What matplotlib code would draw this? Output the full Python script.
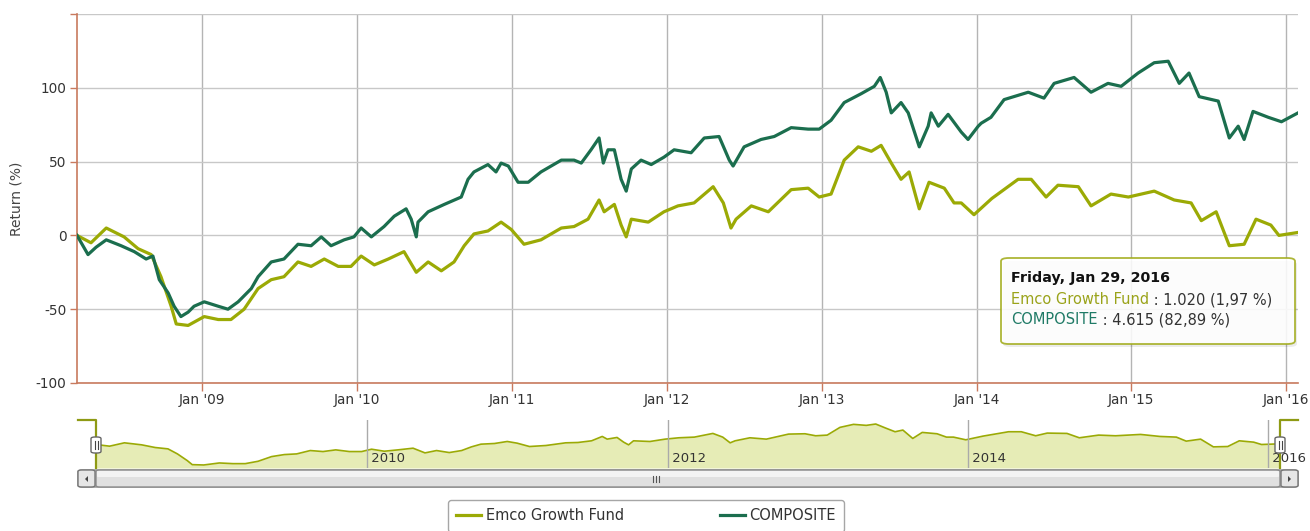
import numpy as np
import pandas as pd
import matplotlib
matplotlib.use("Agg")
import matplotlib.pyplot as plt
import matplotlib.dates as mdates
from matplotlib.patches import FancyBboxPatch, Polygon
from matplotlib.lines import Line2D
from matplotlib.text import Annotation

# --- data (return in %) ---
fund_dates = [
    "2008-03-12", "2008-04-14", "2008-05-20", "2008-07-01", "2008-08-03", "2008-09-03",
    "2008-09-26", "2008-10-20", "2008-11-01", "2008-11-29", "2009-01-06", "2009-02-08",
    "2009-03-10", "2009-04-10", "2009-05-13", "2009-06-13", "2009-07-13", "2009-08-15",
    "2009-09-15", "2009-10-16", "2009-11-18", "2009-12-18", "2010-01-11", "2010-02-11",
    "2010-03-16", "2010-04-22", "2010-05-21", "2010-06-18", "2010-07-19", "2010-08-18",
    "2010-09-11", "2010-10-04", "2010-11-06", "2010-12-07", "2010-12-31", "2011-01-30",
    "2011-03-11", "2011-04-28", "2011-05-28", "2011-06-30", "2011-07-26", "2011-08-07",
    "2011-08-31", "2011-09-16", "2011-09-28", "2011-10-10", "2011-11-19", "2011-12-26",
    "2012-01-28", "2012-03-06", "2012-04-20", "2012-05-14", "2012-06-01", "2012-06-13",
    "2012-07-19", "2012-08-28", "2012-10-21", "2012-11-30", "2012-12-26", "2013-01-23",
    "2013-02-23", "2013-03-28", "2013-04-28", "2013-05-21", "2013-06-14", "2013-07-07",
    "2013-07-26", "2013-08-19", "2013-09-11", "2013-10-17", "2013-11-09", "2013-11-26",
    "2013-12-26", "2014-02-06", "2014-04-09", "2014-05-10", "2014-06-14", "2014-07-12",
    "2014-08-29", "2014-09-28", "2014-11-14", "2014-12-25", "2015-02-24", "2015-04-12",
    "2015-05-22", "2015-06-15", "2015-07-20", "2015-08-20", "2015-09-24", "2015-10-22",
    "2015-11-26", "2015-12-15", "2016-01-29",
]
fund_values = [
    0, -5, 5, -1, -9, -13,
    -28, -48, -60, -61, -55, -57,
    -57, -50, -36, -30, -28, -18,
    -21, -16, -21, -21, -14, -20,
    -16, -11, -25, -18, -24, -18,
    -7, 1, 3, 9, 4, -6,
    -3, 5, 6, 11, 24, 16,
    21, 7, -1, 11, 9, 16,
    20, 22, 33, 22, 5, 11,
    20, 16, 31, 32, 26, 28,
    51, 60, 57, 61, 49, 38,
    43, 18, 36, 32, 22, 22,
    14, 25, 38, 38, 26, 34,
    33, 20, 28, 26, 30, 24,
    22, 10, 16, -7, -6, 11,
    7, 0, 2,
]

comp_dates = [
    "2008-03-12", "2008-04-07", "2008-04-26", "2008-05-20", "2008-06-24", "2008-07-25",
    "2008-08-22", "2008-09-07", "2008-09-22", "2008-10-13", "2008-10-27", "2008-11-12",
    "2008-11-29", "2008-12-13", "2009-01-06", "2009-02-08", "2009-03-03", "2009-03-27",
    "2009-04-27", "2009-05-13", "2009-06-13", "2009-07-13", "2009-08-15", "2009-09-15",
    "2009-10-09", "2009-11-01", "2009-12-02", "2009-12-25", "2010-01-11", "2010-02-04",
    "2010-03-06", "2010-03-30", "2010-04-27", "2010-05-09", "2010-05-21", "2010-05-25",
    "2010-06-18", "2010-07-26", "2010-09-04", "2010-09-20", "2010-10-04", "2010-11-06",
    "2010-11-25", "2010-12-07", "2010-12-24", "2011-01-16", "2011-02-09", "2011-03-11",
    "2011-04-28", "2011-05-28", "2011-06-14", "2011-07-07", "2011-07-26", "2011-08-05",
    "2011-08-16", "2011-08-31", "2011-09-16", "2011-09-28", "2011-10-10", "2011-11-02",
    "2011-11-26", "2011-12-26", "2012-01-19", "2012-02-28", "2012-03-30", "2012-05-04",
    "2012-05-28", "2012-06-06", "2012-07-02", "2012-08-11", "2012-09-11", "2012-10-21",
    "2012-11-30", "2012-12-26", "2013-01-23", "2013-02-23", "2013-04-04", "2013-05-05",
    "2013-05-19", "2013-06-02", "2013-06-14", "2013-07-07", "2013-07-24", "2013-08-19",
    "2013-09-09", "2013-09-16", "2013-10-03", "2013-10-26", "2013-11-26", "2013-12-12",
    "2014-01-05", "2014-01-12", "2014-02-04", "2014-03-07", "2014-05-03", "2014-06-09",
    "2014-07-03", "2014-08-19", "2014-09-28", "2014-11-07", "2014-12-08", "2015-01-17",
    "2015-02-24", "2015-03-29", "2015-04-24", "2015-05-17", "2015-06-10", "2015-07-25",
    "2015-08-20", "2015-09-10", "2015-09-24", "2015-10-15", "2015-11-20", "2015-12-21",
    "2016-01-29",
]
comp_values = [
    0, -13, -8, -3, -7, -11,
    -16, -14, -30, -39, -48, -55,
    -52, -48, -45, -48, -50, -45,
    -36, -28, -18, -16, -6, -7,
    -1, -7, -3, -1, 5, -1,
    6, 13, 18, 11, -1, 9,
    16, 21, 26, 38, 43, 48,
    43, 49, 47, 36, 36, 43,
    51, 51, 49, 58, 66, 49,
    58, 58, 38, 30, 45, 51,
    48, 53, 58, 56, 66, 67,
    51, 47, 60, 65, 67, 73,
    72, 72, 78, 90, 96, 101,
    107, 97, 83, 90, 83, 60,
    74, 83, 74, 82, 70, 65,
    74, 76, 80, 92, 97, 93,
    103, 107, 97, 103, 101, 110,
    117, 118, 103, 110, 94, 91,
    66, 74, 65, 84, 80, 77,
    83,
]

fund_name = "Emco Growth Fund"
comp_name = "COMPOSITE"
x_start, x_end = "2008-03-12", "2016-01-29"
y_ticks = [-100, -50, 0, 50, 100, 150]
y_tick_labels = ["-100", "-50", "0", "50", "100", ""]
nav_years = [2010, 2012, 2014, 2016]

FUND_C = "#9BAA05"
COMP_C = "#1B6E4E"
AXIS_C = "#C87A5E"
TEXT_C = "#333333"

W, H = 1310, 531


def fx(px):
    return px / W


def fy(py):
    return 1 - py / H


fd = pd.to_datetime(fund_dates)
cd = pd.to_datetime(comp_dates)
x0, x1 = pd.Timestamp(x_start), pd.Timestamp(x_end)

plt.rcParams["font.family"] = ["DejaVu Sans"]
fig = plt.figure(figsize=(W / 100, H / 100), dpi=100)
fig.patch.set_facecolor("white")

# ---------------- main chart ----------------
ax = fig.add_axes([fx(77), fy(383), fx(1298) - fx(77), fy(14) - fy(383)])
l_fund, = ax.plot(fd, fund_values, color=FUND_C, lw=2.3, solid_joinstyle="round", zorder=3)
l_comp, = ax.plot(cd, comp_values, color=COMP_C, lw=2.3, solid_joinstyle="round", zorder=4)

ax.set_xlim(x0, x1)
ax.set_ylim(-100, 150)
ax.set_yticks(y_ticks)
ax.set_yticklabels(y_tick_labels)
ax.xaxis.set_major_locator(mdates.YearLocator())
ax.xaxis.set_major_formatter(mdates.DateFormatter("Jan '%y"))

for s in ["top", "right"]:
    ax.spines[s].set_visible(False)
for s in ["left", "bottom"]:
    ax.spines[s].set_color(AXIS_C)
    ax.spines[s].set_linewidth(1.2)
ax.grid(axis="y", color="#C8C8C8", lw=1)
ax.grid(axis="x", color="#B4B4B4", lw=1)
ax.set_axisbelow(True)
ax.tick_params(axis="both", colors=AXIS_C, length=6, width=1, labelsize=9.8,
               labelcolor=TEXT_C)
ax.tick_params(axis="x", pad=1.5)
ax.tick_params(axis="y", length=5, pad=2.5)
ax.set_ylabel("Return (%)", fontsize=10, color="#444444", labelpad=9)

# tooltip
tip = FancyBboxPatch((fx(1001), fy(344)), fx(1295) - fx(1001), fy(258) - fy(344),
                     boxstyle="round,pad=0,rounding_size=0.006", transform=fig.transFigure,
                     facecolor="white", edgecolor="#A2AC1C", lw=1.3, alpha=0.88, zorder=10)
shadow = FancyBboxPatch((fx(1003), fy(347)), fx(1295) - fx(1001), fy(258) - fy(344),
                        boxstyle="round,pad=0,rounding_size=0.006", transform=fig.transFigure,
                        facecolor="#000000", edgecolor="none", alpha=0.08, zorder=9)
fig.patches.extend([shadow, tip])
fig.text(fx(1011), fy(278), "Friday, Jan 29, 2016", fontsize=10.3, fontweight="bold",
         color="#111111", va="center", zorder=11)
t1 = fig.text(fx(1011), fy(300), fund_name, fontsize=10.5, color="#9AA31A", va="center",
              zorder=11)
t2 = fig.text(fx(1011), fy(320), comp_name, fontsize=10.5, color="#1F7A66", va="center",
              zorder=11)
for tt, rest in ((t1, " : 1.020 (1,97 %)"), (t2, " : 4.615 (82,89 %)")):
    an = Annotation(rest, xy=(1, 0), xycoords=tt, va="bottom", ha="left",
                    fontsize=10.5, color=TEXT_C, annotation_clip=False)
    an.set_zorder(11)
    fig.add_artist(an)

# ---------------- navigator ----------------
nav = fig.add_axes([fx(96), fy(468), fx(1280) - fx(96), fy(420) - fy(468)])
nav.fill_between(fd, fund_values, -70, color="#E6ECB6", lw=0)
nav.plot(fd, fund_values, color=FUND_C, lw=1.2)
nav.set_xlim(x0, x1)
nav.set_ylim(-70, 73)
nav.set_xticks([])
nav.set_yticks([])
for s in nav.spines.values():
    s.set_visible(False)
for yr in nav_years:
    d = pd.Timestamp(f"{yr}-01-01")
    nav.axvline(d, color="#AAAAAA", lw=1)
    nav.text(d, -62, f" {yr}", fontsize=9.5, color=TEXT_C, va="bottom", ha="left",
             clip_on=False)

OUT_C = "#8E9A14"
fig.lines.append(Line2D([fx(78), fx(96), fx(96)], [fy(420), fy(420), fy(468)],
                        transform=fig.transFigure, color=OUT_C, lw=1.6))
fig.lines.append(Line2D([fx(1280), fx(1280), fx(1298)], [fy(468), fy(420), fy(420)],
                        transform=fig.transFigure, color=OUT_C, lw=1.6))


# scrollbar
def rbox(x_a, y_a, x_b, y_b, fc, ec, lw=1, r=0.003, z=5):
    p = FancyBboxPatch((fx(x_a), fy(y_b)), fx(x_b) - fx(x_a), fy(y_a) - fy(y_b),
                       boxstyle=f"round,pad=0,rounding_size={r}", transform=fig.transFigure,
                       facecolor=fc, edgecolor=ec, lw=lw, zorder=z)
    fig.patches.append(p)
    return p


rbox(78, 470, 1298, 487, "#EEEEEE", "#8C8C8C", lw=1)
rbox(96, 470, 1280, 487, "#E0E0E0", "#8C8C8C", lw=1)
rbox(97, 471, 1279, 477, "#F3F3F3", "none", lw=0, r=0.001)
rbox(78, 470, 95, 487, "#E6E6E6", "#777777", lw=1)
rbox(1281, 470, 1298, 487, "#E6E6E6", "#777777", lw=1)
for pts in ([(88, 476), (88, 482), (85, 479)], [(1288, 476), (1288, 482), (1291, 479)]):
    fig.patches.append(Polygon([(fx(a), fy(b)) for a, b in pts], closed=True,
                               transform=fig.transFigure, facecolor="#444444",
                               edgecolor="none", zorder=7))
for gx in (653, 656, 659):
    fig.lines.append(Line2D([fx(gx), fx(gx)], [fy(476), fy(482)], transform=fig.transFigure,
                            color="#555555", lw=0.8, zorder=7))

# navigator handles
for hx in (96, 1280):
    rbox(hx - 5, 437, hx + 5, 453, "white", "#666666", lw=1, r=0.003, z=8)
    for dx in (-1.5, 1.5):
        fig.lines.append(Line2D([fx(hx + dx), fx(hx + dx)], [fy(441), fy(449)],
                                transform=fig.transFigure, color="#444444", lw=0.8, zorder=9))

# ---------------- legend ----------------
leg = fig.legend([l_fund, l_comp], [fund_name, comp_name], loc="center",
                 bbox_to_anchor=(fx(646), fy(516)), ncol=2, fontsize=10.5, frameon=True,
                 fancybox=True, edgecolor="#909090", handlelength=1.7, handletextpad=0.3,
                 columnspacing=6.6, borderpad=0.6)
leg.get_frame().set_linewidth(1)
for t in leg.get_texts():
    t.set_color(TEXT_C)

fig.savefig("out.png", dpi=100)
